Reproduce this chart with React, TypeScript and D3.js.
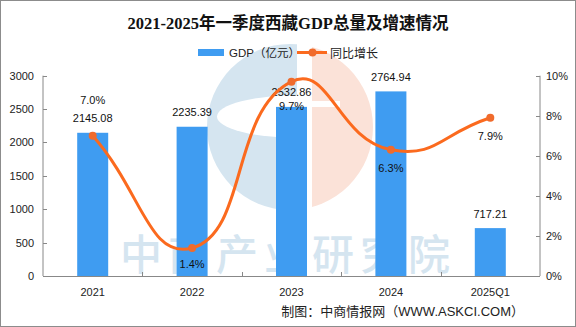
import React from "react";
import * as d3 from "d3";

const categories = ["2021", "2022", "2023", "2024", "2025Q1"];
const gdpValues = [2145.08, 2235.39, 2532.86, 2764.94, 717.21];
const growthValues = [7.0, 1.4, 9.7, 6.3, 7.9];
const leftTicks = [0, 500, 1000, 1500, 2000, 2500, 3000];
const rightTicks = [0, 2, 4, 6, 8, 10];
const pctLabelDy = [-36, 16, 24, 18, 18];

const W = 576;
const H = 327;
const M = { left: 43, right: 540, top: 75.7, bottom: 276 };
const BAR = "#3f9cf1";
const LINE = "#fb6a1e";
const DOT = "#f06b2c";
const AXIS = "#888888";
const NUMFONT = "'Liberation Sans', 'Noto Sans CJK SC', sans-serif";
const CJK = "'Noto Sans CJK SC', 'Liberation Sans', sans-serif";

function smoothPath(pts: [number, number][], smooth = 0.5) {
  const n = pts.length;
  const cp0: [number, number][] = [];
  const cp1: [number, number][] = [];
  for (let i = 0; i < n; i++) {
    const p = pts[i];
    const prev = pts[i - 1] ?? p;
    const next = pts[i + 1] ?? p;
    const vx = next[0] - prev[0];
    const vy = next[1] - prev[1];
    let d0 = Math.hypot(p[0] - prev[0], p[1] - prev[1]);
    let d1 = Math.hypot(p[0] - next[0], p[1] - next[1]);
    const s = d0 + d1;
    if (s > 0) {
      d0 /= s;
      d1 /= s;
    }
    cp0.push([p[0] - vx * smooth * d0, p[1] - vy * smooth * d0]);
    cp1.push([p[0] + vx * smooth * d1, p[1] + vy * smooth * d1]);
  }
  const path = d3.path();
  path.moveTo(pts[0][0], pts[0][1]);
  for (let i = 0; i < n - 1; i++) {
    path.bezierCurveTo(cp1[i][0], cp1[i][1], cp0[i + 1][0], cp0[i + 1][1], pts[i + 1][0], pts[i + 1][1]);
  }
  return path.toString();
}

export default function App() {
  const x = d3.scaleBand<string>().domain(categories).range([M.left, M.right]);
  const yL = d3.scaleLinear().domain([0, 3000]).range([M.bottom, M.top]);
  const yR = d3.scaleLinear().domain([0, 10]).range([M.bottom, M.top]);
  const barW = 31;
  const cx = (c: string) => (x(c) as number) + x.bandwidth() / 2;
  const pts: [number, number][] = categories.map((c, i) => [cx(c), yR(growthValues[i])]);

  const wmBlue = "#d5e5f0";
  const wmSalmon = "#fbe2d8";
  const wc = { x: 290, y: 127, r: 83 };

  return (
    <svg width={W} height={H} style={{ position: "absolute", left: 0, top: 0, background: "#fff" }}>
      <defs>
        <clipPath id="blueHalf">
          <rect x={0} y={0} width={297} height={H} />
        </clipPath>
        <clipPath id="salmonHalf">
          <rect x={312} y={0} width={W} height={H} />
        </clipPath>
      </defs>
      <rect x={0.5} y={0.5} width={W - 1} height={H - 1} fill="#fff" stroke="#8c8c8c" />

      {/* watermark */}
      <g>
        <g clipPath="url(#blueHalf)">
          <circle cx={wc.x} cy={wc.y} r={wc.r} fill={wmBlue} />
          <ellipse cx={300} cy={116.5} rx={83} ry={21.5} fill="#fff" />
        </g>
        <g clipPath="url(#salmonHalf)">
          <circle cx={wc.x} cy={wc.y} r={wc.r} fill={wmSalmon} />
          <rect x={312} y={101} width={28} height={6} fill="#fff" />
        </g>
        <text
          x={288}
          y={251}
          textAnchor="middle"
          dominantBaseline="central"
          fontFamily={CJK}
          fontSize={42}
          fontWeight={500}
          letterSpacing={6}
          fill={wmBlue}
        >
          中商产业研究院
        </text>
      </g>

      {/* title */}
      <text
        x={288}
        y={23}
        textAnchor="middle"
        dominantBaseline="central"
        fontFamily="'Liberation Serif', 'Noto Sans CJK SC', serif"
        fontWeight="bold"
        fontSize={16.5}
        fill="#111"
      >
        2021-2025年一季度西藏GDP总量及增速情况
      </text>

      {/* legend */}
      <rect x={198} y={49} width={26} height={7} fill={BAR} />
      <text x={229} y={52.5} dominantBaseline="central" fontFamily={NUMFONT} fontSize={11.5} fill="#222">
        GDP（亿元）
      </text>
      <line x1={297} x2={327} y1={52.5} y2={52.5} stroke={LINE} strokeWidth={3} />
      <circle cx={312.5} cy={52.5} r={4} fill={DOT} />
      <text x={330} y={52.5} dominantBaseline="central" fontFamily={CJK} fontSize={12} fill="#222">
        同比增长
      </text>

      {/* axes */}
      <line x1={M.left} x2={M.left} y1={M.top} y2={M.bottom} stroke={AXIS} />
      <line x1={M.right} x2={M.right} y1={M.top} y2={M.bottom} stroke={AXIS} />
      <line x1={M.left} x2={M.right} y1={M.bottom + 0.5} y2={M.bottom + 0.5} stroke={AXIS} />
      {leftTicks.map((t) => (
        <g key={"l" + t}>
          <line x1={M.left} x2={M.left + 4} y1={Math.round(yL(t)) + 0.5} y2={Math.round(yL(t)) + 0.5} stroke={AXIS} />
          <text x={34} y={yL(t)} textAnchor="end" dominantBaseline="central" fontFamily={NUMFONT} fontSize={11} fill="#222">
            {t}
          </text>
        </g>
      ))}
      {rightTicks.map((t) => (
        <g key={"r" + t}>
          <line x1={M.right - 4} x2={M.right} y1={Math.round(yR(t)) + 0.5} y2={Math.round(yR(t)) + 0.5} stroke={AXIS} />
          <text x={546} y={yR(t)} dominantBaseline="central" fontFamily={NUMFONT} fontSize={11} fill="#222">
            {t + "%"}
          </text>
        </g>
      ))}
      {categories.slice(1).map((c) => (
        <line
          key={"bt" + c}
          x1={Math.round(x(c) as number) + 0.5}
          x2={Math.round(x(c) as number) + 0.5}
          y1={M.bottom - 4}
          y2={M.bottom}
          stroke={AXIS}
        />
      ))}
      {categories.map((c) => (
        <text key={"bl" + c} x={cx(c)} y={291.5} textAnchor="middle" dominantBaseline="central" fontFamily={NUMFONT} fontSize={11} fill="#222">
          {c}
        </text>
      ))}

      {/* bars */}
      {categories.map((c, i) => (
        <g key={"b" + c}>
          <rect x={cx(c) - barW / 2} y={yL(gdpValues[i])} width={barW} height={M.bottom - yL(gdpValues[i])} fill={BAR} />
          <text
            x={cx(c)}
            y={yL(gdpValues[i]) - 14.5}
            textAnchor="middle"
            dominantBaseline="central"
            fontFamily={NUMFONT}
            fontSize={11}
            fill="#111"
          >
            {gdpValues[i].toFixed(2)}
          </text>
        </g>
      ))}

      {/* line */}
      <path d={smoothPath(pts)} fill="none" stroke={LINE} strokeWidth={3} />
      {pts.map((p, i) => (
        <circle key={"d" + i} cx={p[0]} cy={p[1]} r={4} fill={DOT} />
      ))}
      {pts.map((p, i) => (
        <text
          key={"pl" + i}
          x={p[0]}
          y={p[1] + pctLabelDy[i]}
          textAnchor="middle"
          dominantBaseline="central"
          fontFamily={NUMFONT}
          fontSize={11}
          fill="#111"
        >
          {growthValues[i].toFixed(1) + "%"}
        </text>
      ))}

      {/* source */}
      <text x={524} y={311} textAnchor="end" dominantBaseline="central" fontFamily={NUMFONT} fontSize={13} fill="#222">
        制图：中商情报网（WWW.ASKCI.COM）
      </text>
    </svg>
  );
}
